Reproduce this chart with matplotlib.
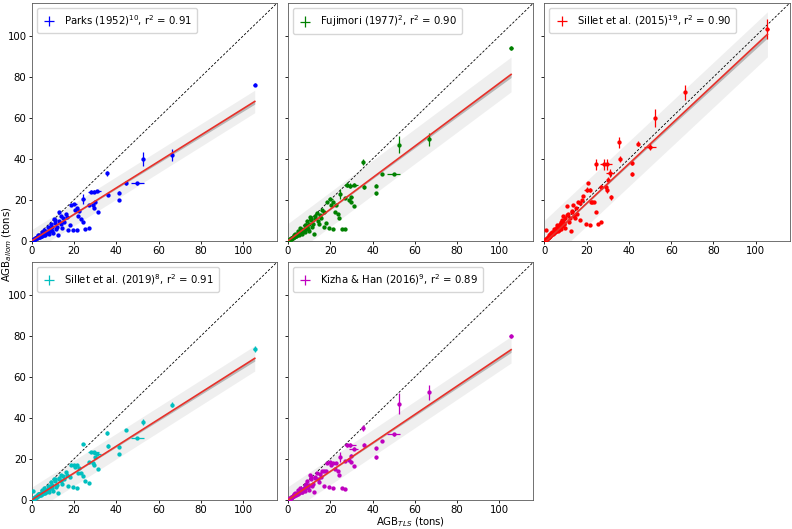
import numpy as np
import matplotlib
matplotlib.use("Agg")
import matplotlib.pyplot as plt

# tree-level above-ground biomass (tons), TLS estimate and its uncertainty
x_tls = [105.5, 66.5, 52.5, 50.0, 44.5, 35.5, 36.0, 41.5, 41.5, 28.0,
         29.5, 31.0, 24.5, 30.0, 29.0, 29.6, 31.4, 27.0, 21.5, 20.0,
         22.5, 23.5, 24.2, 27.0, 25.4, 21.5, 18.0, 16.8, 13.7, 10.5,
         12.9, 15.5, 19.5, 17.0, 14.5, 22.0, 20.5, 15.0, 12.0, 11.0,
         9.5, 8.5, 10.0, 12.5, 8.0, 7.5, 7.0, 6.5, 6.0, 5.5,
         5.0, 4.5, 4.0, 3.5, 3.0, 2.5, 2.0, 1.5, 0.8, 1.0,
         0.6, 0.4, 0.3, 3.2, 5.8, 9.0, 11.5, 13.0, 16.0, 18.5,
         10.8, 14.0, 7.8, 4.8, 2.8,
         1.8, 2.2, 3.8, 4.2, 5.2, 6.2, 6.8, 8.8, 9.8, 0.5,
         0.7, 1.1, 1.3, 1.6, 2.1, 2.4, 2.7, 3.3, 3.6, 4.3,
         4.6, 5.3, 5.7, 6.3, 7.2, 8.2, 9.2]
x_err_top = [0.8, 0.5, 0.4, 3.0, 0.4, 0.3, 0.3, 0.3, 0.3, 1.5,
             2.5, 2.0, 0.5, 0.5, 0.3, 0.3, 0.3, 0.3, 0.4, 1.2]
x_err_rest = 0.25

# allometric estimates, one list per model
parks = [76.2, 42.0, 40.0, 28.0, 28.0, 33.0, 22.5, 23.5, 20.0, 24.0,
         24.0, 24.3, 20.5, 19.2, 17.3, 16.0, 14.3, 17.7, 16.0, 18.0,
         14.5, 10.7, 9.0, 6.5, 5.9, 5.4, 7.5, 11.8, 12.0, 10.7,
         14.0, 9.0, 5.5, 5.5, 6.5, 12.0, 15.0, 11.0, 7.0, 8.5,
         5.0, 6.5, 4.0, 3.0, 3.5, 5.0, 4.0, 3.0, 4.2, 3.5,
         2.5, 3.0, 2.0, 2.5, 1.8, 1.5, 1.2, 0.9, 0.5, 0.6,
         0.4, 0.25, 0.2, 2.8, 5.5, 8.0, 6.0, 9.5, 13.0, 17.5,
         10.0, 8.0, 6.8, 4.5, 2.5,
         1.2, 1.6, 2.6, 2.4, 3.8, 4.8, 3.6, 5.8, 6.8, 0.3,
         0.4, 0.7, 0.8, 1.0, 1.4, 1.3, 1.8, 2.1, 2.0, 2.9,
         2.6, 3.2, 3.0, 4.0, 4.4, 4.8, 5.5]
fujimori = [94.0, 49.5, 47.0, 32.5, 32.5, 38.5, 26.5, 27.0, 23.3, 27.5,
            27.0, 27.5, 23.0, 21.3, 20.0, 19.0, 17.0, 21.0, 19.0, 20.5,
            17.5, 13.0, 11.0, 6.0, 5.9, 5.8, 8.5, 14.0, 13.5, 11.6,
            12.0, 11.0, 6.5, 7.0, 8.0, 14.0, 17.5, 12.5, 8.0, 10.0,
            6.0, 7.5, 5.0, 3.5, 4.5, 6.0, 5.0, 3.5, 5.0, 4.0,
            3.0, 3.5, 2.5, 3.0, 2.0, 1.8, 1.4, 1.0, 0.6, 0.7,
            0.45, 0.3, 0.25, 3.2, 6.2, 9.5, 7.0, 11.0, 15.0, 19.0,
            10.5, 9.5, 7.5, 5.0, 2.8,
            1.4, 1.9, 3.0, 2.8, 4.4, 5.6, 4.2, 6.8, 8.0, 0.35,
            0.5, 0.8, 0.9, 1.2, 1.6, 1.6, 2.1, 2.5, 2.4, 3.3,
            3.1, 3.8, 3.6, 4.6, 5.2, 5.6, 6.4]
sillet15 = [103.5, 72.5, 60.0, 46.0, 47.5, 48.0, 40.0, 38.0, 32.5, 37.3,
            37.3, 33.0, 37.3, 29.8, 26.2, 24.6, 21.3, 26.2, 24.6, 25.0,
            19.2, 18.9, 14.0, 9.0, 8.3, 7.5, 19.7, 18.6, 17.3, 17.0,
            14.0, 13.0, 8.0, 10.0, 11.0, 19.0, 28.3, 16.0, 11.0, 13.0,
            8.0, 10.0, 6.5, 5.0, 6.0, 8.0, 6.5, 5.0, 6.5, 5.5,
            4.5, 4.5, 3.5, 4.0, 3.0, 2.5, 2.0, 1.5, 5.5, 1.0,
            0.7, 0.5, 0.4, 4.0, 7.5, 12.0, 9.0, 14.5, 19.0, 22.0,
            12.5, 12.0, 9.0, 6.0, 3.5,
            2.0, 2.8, 4.2, 4.0, 6.0, 7.0, 5.5, 9.5, 11.0, 0.6,
            0.6, 1.0, 1.2, 1.5, 2.0, 2.1, 2.6, 3.1, 3.2, 4.1,
            4.0, 4.9, 4.8, 5.9, 6.6, 7.3, 8.3]
sillet19 = [73.5, 46.5, 38.0, 30.0, 34.0, 32.5, 26.3, 26.0, 22.4, 23.5,
            23.3, 22.5, 27.2, 21.0, 18.0, 17.0, 15.0, 18.5, 17.0, 17.0,
            15.5, 13.0, 11.5, 8.1, 9.0, 6.0, 11.0, 12.0, 12.0, 10.0,
            10.5, 10.0, 6.5, 7.0, 8.0, 13.0, 16.0, 11.5, 7.5, 9.0,
            6.0, 7.0, 4.5, 3.5, 4.0, 5.5, 4.5, 3.5, 4.5, 3.8,
            3.0, 3.3, 2.5, 2.8, 2.0, 1.7, 1.4, 1.0, 4.4, 0.7,
            0.45, 0.3, 0.25, 3.0, 5.8, 8.5, 6.5, 10.0, 13.5, 17.0,
            10.2, 9.0, 7.0, 4.6, 2.6,
            1.3, 1.7, 2.8, 2.6, 4.0, 5.0, 3.8, 6.2, 7.2, 0.35,
            0.45, 0.75, 0.85, 1.1, 1.5, 1.5, 1.9, 2.3, 2.2, 3.0,
            2.8, 3.5, 3.3, 4.3, 4.7, 5.2, 6.0]
kizha = [79.8, 52.5, 47.0, 32.0, 28.8, 35.0, 26.8, 25.2, 20.8, 27.0,
         27.0, 25.0, 21.0, 21.6, 19.5, 18.4, 16.5, 19.0, 18.0, 18.5,
         17.9, 14.0, 12.0, 5.4, 6.0, 5.7, 14.0, 14.0, 13.0, 12.2,
         11.0, 11.0, 6.5, 7.0, 8.5, 15.0, 17.0, 12.5, 8.0, 10.0,
         6.5, 8.0, 5.0, 4.0, 4.5, 6.0, 5.0, 4.0, 5.0, 4.3,
         3.5, 3.5, 2.8, 3.0, 2.2, 1.8, 1.5, 1.1, 0.6, 0.7,
         0.45, 0.3, 0.25, 3.2, 6.0, 9.0, 7.0, 10.5, 14.0, 18.0,
         11.0, 10.0, 7.5, 5.0, 2.8,
         1.4, 1.8, 3.0, 2.8, 4.2, 5.2, 4.0, 6.5, 7.5, 0.35,
         0.5, 0.8, 0.9, 1.2, 1.6, 1.7, 2.0, 2.4, 2.5, 3.2,
         3.1, 3.8, 3.7, 4.5, 5.1, 5.7, 6.3]

# y uncertainty of the 20 largest trees, smaller ones share one value
parks_yerr = [0.8, 3.0, 3.5, 0.5, 0.5, 1.2, 0.8, 0.6, 0.6, 0.8,
              0.8, 0.6, 2.5, 0.6, 0.5, 0.5, 0.5, 0.5, 0.5, 0.6]
fujimori_yerr = [1.0, 3.0, 4.0, 0.6, 0.6, 1.3, 1.0, 0.7, 0.7, 1.0,
                 1.0, 0.8, 2.5, 0.7, 0.6, 0.6, 0.6, 0.6, 0.6, 0.7]
sillet15_yerr = [5.0, 3.8, 4.5, 1.8, 1.2, 2.5, 1.5, 1.2, 1.0, 2.5,
                 2.5, 2.0, 2.5, 1.5, 1.2, 1.2, 1.2, 1.0, 1.0, 1.2]
sillet19_yerr = [1.5, 1.2, 1.3, 0.4, 0.4, 1.0, 0.8, 0.6, 0.6, 0.6,
                 0.6, 0.6, 0.6, 0.5, 0.5, 0.5, 0.5, 0.5, 0.5, 0.5]
kizha_yerr = [1.0, 3.5, 5.0, 0.6, 0.6, 1.5, 1.0, 0.7, 0.7, 1.0,
              1.0, 0.8, 2.5, 0.7, 0.6, 0.6, 0.6, 0.6, 0.6, 0.7]
small_yerr = 0.3

labels = [r"Parks (1952)$^{10}$, r$^2$ = 0.91",
          r"Fujimori (1977)$^{2}$, r$^2$ = 0.90",
          r"Sillet et al. (2015)$^{19}$, r$^2$ = 0.90",
          r"Sillet et al. (2019)$^{8}$, r$^2$ = 0.91",
          r"Kizha & Han (2016)$^{9}$, r$^2$ = 0.89"]
colors = ["b", "g", "r", "c", "m"]

# fitted line (slope, intercept) and band half-widths
fit_slope = [0.645, 0.77, 0.965, 0.655, 0.695]
fit_icept = [0.0, 0.0, -1.0, 0.0, 0.0]
pred_halfwidth = [5.5, 8.5, 11.0, 6.2, 6.5]
conf_halfwidth_end = [1.3, 1.5, 1.8, 1.3, 1.3]

models = [parks, fujimori, sillet15, sillet19, kizha]
model_yerr = [parks_yerr, fujimori_yerr, sillet15_yerr, sillet19_yerr, kizha_yerr]

plt.rcParams["font.size"] = 7.3

x = np.array(x_tls)
n = len(x)
xerr = np.concatenate([x_err_top, np.full(n - len(x_err_top), x_err_rest)])

fig, axes = plt.subplots(2, 3, figsize=(7.92, 5.29), dpi=100, sharey=True)
fig.subplots_adjust(left=0.040, right=0.997, bottom=0.055, top=0.994,
                    wspace=0.045, hspace=0.09)

lim = 116
xs = np.linspace(0, x.max(), 200)
xm = x.mean()
sxx = ((x - xm) ** 2).sum()
shape = np.sqrt(1 / n + (xs - xm) ** 2 / sxx)
shape = shape / shape[-1]

for i, ax in enumerate(axes.flat[:5]):
    y = np.array(models[i])
    yerr = np.concatenate([model_yerr[i], np.full(n - len(model_yerr[i]), small_yerr)])
    line = fit_slope[i] * xs + fit_icept[i]

    ax.fill_between(xs, line - pred_halfwidth[i], line + pred_halfwidth[i],
                    color="0.5", alpha=0.12, lw=0, zorder=1)
    ax.fill_between(xs, line - conf_halfwidth_end[i] * shape, line + conf_halfwidth_end[i] * shape * 0.3,
                    color="0.45", alpha=0.45, lw=0, zorder=2)
    ax.plot([0, lim], [0, lim], "k--", lw=0.6, dashes=(3, 2), zorder=2)

    ax.errorbar(x, y, xerr=xerr, yerr=yerr, fmt="none", ecolor=colors[i],
                elinewidth=0.9, label=labels[i], zorder=3)
    ax.plot(x, y, "o", color=colors[i], ms=2.1, zorder=3)
    ax.plot(xs, line, color="#e8312a", lw=1.2, zorder=4)

    ax.set_xlim(0, lim)
    ax.set_ylim(0, lim)
    ax.set_xticks([0, 20, 40, 60, 80, 100])
    ax.set_yticks([0, 20, 40, 60, 80, 100])
    ax.tick_params(length=2.5, width=0.6, pad=1.2)
    for sp in ax.spines.values():
        sp.set_linewidth(0.6)
        sp.set_color("0.35")
    ax.legend(loc="upper left", handlelength=1.4, borderpad=0.5, fontsize=7.3)

axes[1, 2].axis("off")
axes[1, 1].set_xlabel(r"AGB$_{TLS}$ (tons)", labelpad=0)
fig.text(0.0, 0.538, r"AGB$_{allom}$ (tons)", rotation=90, va="center", ha="left")

fig.savefig("out.png", dpi=100)
